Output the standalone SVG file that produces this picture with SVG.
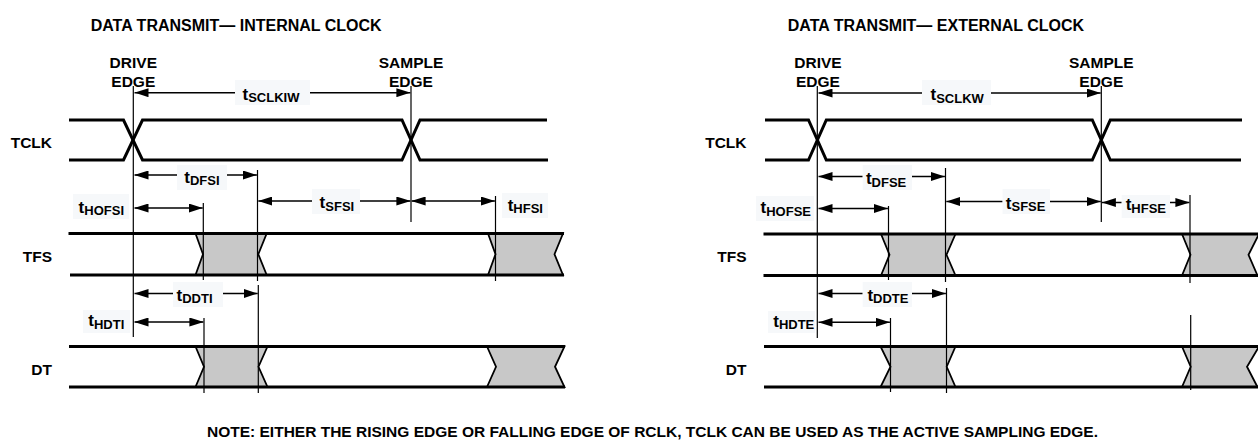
<svg xmlns="http://www.w3.org/2000/svg" width="1258" height="445" viewBox="0 0 1258 445">
<style>
text{font-family:"Liberation Sans",Arial,Helvetica,sans-serif;font-weight:bold;fill:#000}
.big{font-size:15.5px}
.ttl{font-size:16px}
.t{font-size:17px}
.sub{font-size:13px}
.sig{fill:none;stroke:#000;stroke-width:3;stroke-linejoin:miter}
.ref{fill:none;stroke:#000;stroke-width:1.2}
.arr{fill:none;stroke:#000;stroke-width:1.5}
.shade{fill:#c8c8c8;stroke:#000;stroke-width:1.8;stroke-linejoin:miter}
.box{fill:#f6f8fa}
</style>
<defs>
<marker id="ah" markerWidth="14" markerHeight="9" refX="14" refY="4.5" orient="auto-start-reverse" markerUnits="userSpaceOnUse"><path d="M0,0 L14,4.5 L0,9 z" fill="#000"/></marker>
</defs>
<rect width="1258" height="445" fill="#fff"/>

<!-- titles -->
<g id="titles">
<text class="ttl" x="90.7" y="30.5">DATA TRANSMIT— INTERNAL CLOCK</text>
<text class="ttl" x="787.8" y="30.5">DATA TRANSMIT— EXTERNAL CLOCK</text>
</g>

<!-- LEFT DIAGRAM -->
<g id="edge-labels-left" text-anchor="middle">
<text class="big" x="133.3" y="68.3">DRIVE</text>
<text class="big" x="133.3" y="87.3">EDGE</text>
<text class="big" x="411" y="68.3">SAMPLE</text>
<text class="big" x="411" y="87.3">EDGE</text>
</g>
<g id="signal-names-left" text-anchor="end">
<text class="big" x="52" y="148">TCLK</text>
<text class="big" x="52" y="261.5">TFS</text>
<text class="big" x="52" y="375">DT</text>
</g>
<g id="tclk-left">
<polyline class="sig" points="69,120 123.5,120 142.5,160 402,160 420,120 547,120"/>
<polyline class="sig" points="69,160 123.5,160 142.5,120 402,120 420,160 548,160"/>
</g>
<g id="tfs-left">
<polygon class="shade" points="195.5,233.5 266.7,233.5 258.3,254.25 266.7,275 195.5,275 203,254.25"/>
<polygon class="shade" points="488,233.5 563,233.5 554.5,254.25 563,275 488,275 495.5,254.25"/>
<line class="sig" x1="68.5" y1="233.5" x2="564" y2="233.5"/>
<line class="sig" x1="70" y1="275" x2="564" y2="275"/>
</g>
<g id="dt-left">
<polygon class="shade" points="195.5,346.5 267.5,346.5 258.5,366.75 267.5,387 195.5,387 204,366.75"/>
<polygon class="shade" points="487,346.5 564.5,346.5 555,366.75 564.5,387 487,387 496,366.75"/>
<line class="sig" x1="69" y1="346.5" x2="565" y2="346.5"/>
<line class="sig" x1="69" y1="387" x2="565" y2="387"/>
</g>

<!-- RIGHT DIAGRAM -->
<g id="edge-labels-right" text-anchor="middle">
<text class="big" x="818" y="68.3">DRIVE</text>
<text class="big" x="818" y="87.3">EDGE</text>
<text class="big" x="1101.3" y="68.3">SAMPLE</text>
<text class="big" x="1101.3" y="87.3">EDGE</text>
</g>
<g id="signal-names-right" text-anchor="end">
<text class="big" x="746.5" y="148">TCLK</text>
<text class="big" x="746.5" y="261.5">TFS</text>
<text class="big" x="746.5" y="375">DT</text>
</g>
<g id="tclk-right">
<polyline class="sig" points="765,120 808.5,120 826.3,160 1092.3,160 1110.3,120 1242,120"/>
<polyline class="sig" points="765,160 808.5,160 826.3,120 1092.3,120 1110.3,160 1241,160"/>
</g>
<g id="tfs-right">
<polygon class="shade" points="881,234 955.5,234 946.5,254.75 955.5,275.5 881,275.5 889.5,254.75"/>
<polygon class="shade" points="1182,234 1259,234 1248.5,254.75 1257.5,275.5 1182,275.5 1190.5,254.75"/>
<line class="sig" x1="763.5" y1="234" x2="1258" y2="234"/>
<line class="sig" x1="763.5" y1="275.5" x2="1258" y2="275.5"/>
</g>
<g id="dt-right">
<polygon class="shade" points="880.5,346.5 955.5,346.5 946.7,366.75 955.5,387 880.5,387 890.5,366.75"/>
<polygon class="shade" points="1182,346.5 1259,346.5 1247,366.75 1257.5,387 1182,387 1190.7,366.75"/>
<line class="sig" x1="764" y1="346.5" x2="1258" y2="346.5"/>
<line class="sig" x1="764" y1="387" x2="1258" y2="387"/>
</g>

<!-- timing connectors -->
<g id="connectors">
<!-- reference lines left -->
<line class="ref" x1="133.3" y1="86" x2="133.3" y2="337"/>
<line class="ref" x1="411" y1="86" x2="411" y2="222"/>
<line class="ref" x1="257.5" y1="170" x2="257.5" y2="281"/>
<line class="ref" x1="258.3" y1="285" x2="258.3" y2="393"/>
<line class="ref" x1="203.3" y1="203" x2="203.3" y2="280"/>
<line class="ref" x1="204" y1="318" x2="204" y2="393"/>
<line class="ref" x1="495.5" y1="196" x2="495.5" y2="281"/>
<!-- reference lines right -->
<line class="ref" x1="817.3" y1="86" x2="817.3" y2="338"/>
<line class="ref" x1="1101.3" y1="86" x2="1101.3" y2="222"/>
<line class="ref" x1="945.5" y1="168" x2="945.5" y2="282"/>
<line class="ref" x1="946.5" y1="288" x2="946.5" y2="393"/>
<line class="ref" x1="888.5" y1="206" x2="888.5" y2="280"/>
<line class="ref" x1="890.5" y1="318" x2="890.5" y2="392"/>
<line class="ref" x1="1190" y1="195" x2="1190" y2="283"/>
<line class="ref" x1="1190.7" y1="315" x2="1190.7" y2="390"/>

<!-- arrows left -->
<line class="arr" x1="134.5" y1="92.7" x2="235" y2="92.7" marker-start="url(#ah)"/>
<line class="arr" x1="310" y1="92.7" x2="410.4" y2="92.7" marker-end="url(#ah)"/>
<line class="arr" x1="134.5" y1="175" x2="177" y2="175" marker-start="url(#ah)"/>
<line class="arr" x1="227" y1="175" x2="256.9" y2="175" marker-end="url(#ah)"/>
<line class="arr" x1="134.5" y1="208" x2="202.7" y2="208" marker-start="url(#ah)" marker-end="url(#ah)"/>
<line class="arr" x1="258.3" y1="201" x2="312" y2="201" marker-start="url(#ah)"/>
<line class="arr" x1="360" y1="201" x2="410.4" y2="201" marker-end="url(#ah)"/>
<line class="arr" x1="411.6" y1="201" x2="494.9" y2="201" marker-start="url(#ah)" marker-end="url(#ah)"/>
<line class="arr" x1="134.5" y1="293.5" x2="173" y2="293.5" marker-start="url(#ah)"/>
<line class="arr" x1="223" y1="293.5" x2="257.7" y2="293.5" marker-end="url(#ah)"/>
<line class="arr" x1="134.5" y1="322" x2="203.4" y2="322" marker-start="url(#ah)" marker-end="url(#ah)"/>
<!-- arrows right -->
<line class="arr" x1="818.5" y1="93" x2="922" y2="93" marker-start="url(#ah)"/>
<line class="arr" x1="991" y1="93" x2="1100.7" y2="93" marker-end="url(#ah)"/>
<line class="arr" x1="818.5" y1="176.5" x2="862.7" y2="176.5" marker-start="url(#ah)"/>
<line class="arr" x1="912" y1="176.5" x2="944.9" y2="176.5" marker-end="url(#ah)"/>
<line class="arr" x1="818.5" y1="208.5" x2="887.9" y2="208.5" marker-start="url(#ah)" marker-end="url(#ah)"/>
<line class="arr" x1="946.3" y1="201.5" x2="1002.6" y2="201.5" marker-start="url(#ah)"/>
<line class="arr" x1="1050" y1="201.5" x2="1100.7" y2="201.5" marker-end="url(#ah)"/>
<line class="arr" x1="1101.9" y1="202.5" x2="1121.7" y2="202.5" marker-start="url(#ah)"/>
<line class="arr" x1="1170" y1="202.5" x2="1189.4" y2="202.5" marker-end="url(#ah)"/>
<line class="arr" x1="818.5" y1="293.5" x2="862.7" y2="293.5" marker-start="url(#ah)"/>
<line class="arr" x1="912" y1="293.5" x2="945.9" y2="293.5" marker-end="url(#ah)"/>
<line class="arr" x1="818.5" y1="322.3" x2="889.9" y2="322.3" marker-start="url(#ah)" marker-end="url(#ah)"/>
</g>

<!-- timing labels -->
<g id="timing-labels-left">
<rect class="box" x="235" y="80" width="75" height="25"/>
<text x="242.5" y="99.5"><tspan class="t">t</tspan><tspan class="sub" dy="2.5">SCLKIW</tspan></text>
<rect class="box" x="177" y="165" width="50" height="25"/>
<text x="184.3" y="182.5"><tspan class="t">t</tspan><tspan class="sub" dy="2.5">DFSI</tspan></text>
<rect class="box" x="73" y="194" width="56" height="25"/>
<text x="124" y="212.5" text-anchor="end"><tspan class="t">t</tspan><tspan class="sub" dy="2.5">HOFSI</tspan></text>
<rect class="box" x="312" y="189" width="48" height="25"/>
<text x="319.6" y="208"><tspan class="t">t</tspan><tspan class="sub" dy="2.5">SFSI</tspan></text>
<rect class="box" x="502" y="193" width="46" height="25"/>
<text x="507.7" y="210.5"><tspan class="t">t</tspan><tspan class="sub" dy="2.5">HFSI</tspan></text>
<rect class="box" x="173" y="282" width="50" height="25"/>
<text x="176.5" y="300.5"><tspan class="t">t</tspan><tspan class="sub" dy="2.5">DDTI</tspan></text>
<rect class="box" x="83" y="310" width="47" height="23"/>
<text x="124.3" y="326" text-anchor="end"><tspan class="t">t</tspan><tspan class="sub" dy="2.5">HDTI</tspan></text>
</g>
<g id="timing-labels-right">
<rect class="box" x="922" y="80" width="69" height="25"/>
<text x="930.5" y="100"><tspan class="t">t</tspan><tspan class="sub" dy="2.5">SCLKW</tspan></text>
<rect class="box" x="862.7" y="165" width="49.3" height="25"/>
<text x="865.9" y="184"><tspan class="t">t</tspan><tspan class="sub" dy="2.5">DFSE</tspan></text>
<rect class="box" x="756" y="196" width="58" height="25"/>
<text x="811" y="213" text-anchor="end"><tspan class="t">t</tspan><tspan class="sub" dy="2.5">HOFSE</tspan></text>
<rect class="box" x="1002.6" y="189" width="47.4" height="25"/>
<text x="1005.8" y="208.5"><tspan class="t">t</tspan><tspan class="sub" dy="2.5">SFSE</tspan></text>
<rect class="box" x="1121.7" y="195" width="48.3" height="23"/>
<text x="1125.7" y="210"><tspan class="t">t</tspan><tspan class="sub" dy="2.5">HFSE</tspan></text>
<rect class="box" x="862.7" y="282" width="49.3" height="25"/>
<text x="867.4" y="300.5"><tspan class="t">t</tspan><tspan class="sub" dy="2.5">DDTE</tspan></text>
<rect class="box" x="768" y="311" width="47" height="22"/>
<text x="814.3" y="326.5" text-anchor="end"><tspan class="t">t</tspan><tspan class="sub" dy="2.5">HDTE</tspan></text>
</g>

<g id="note">
<text class="big" x="207" y="437">NOTE: EITHER THE RISING EDGE OR FALLING EDGE OF RCLK, TCLK CAN BE USED AS THE ACTIVE SAMPLING EDGE.</text>
</g>
</svg>
